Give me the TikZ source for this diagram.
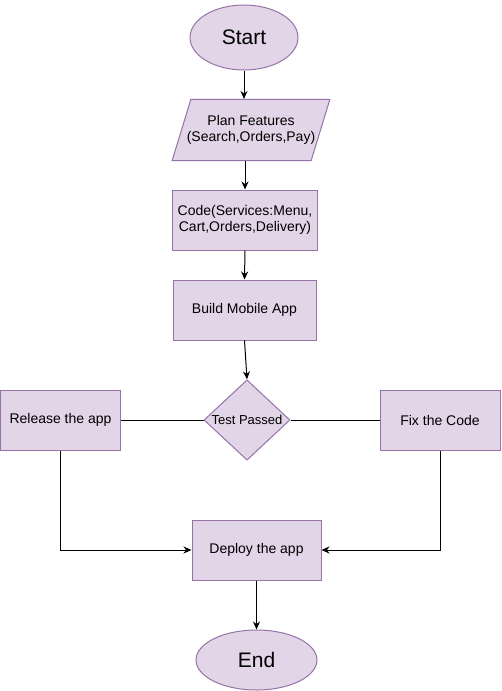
\documentclass[tikz,border=0pt]{standalone}
\usepackage{fontspec}
\setmainfont{Liberation Sans}
\usepackage{tikz}
\usetikzlibrary{arrows.meta,shapes.geometric}

\definecolor{boxfill}{HTML}{E1D5E7}
\definecolor{boxline}{HTML}{9673A6}

\begin{document}
\begin{tikzpicture}[>={Stealth[length=8pt,width=7pt]}, x=1pt, y=1pt,
	block/.style={draw=boxline, fill=boxfill, line width=1pt, inner sep=0pt, align=center, font=\fontsize{14}{16}\selectfont},
	terminal/.style={block, ellipse, font=\fontsize{21}{24}\selectfont},
	box/.style={block, rectangle, minimum height=60pt},
	io/.style={block, trapezium, trapezium left angle=73, trapezium right angle=107, inner ysep=16pt, inner xsep=-4pt, minimum width=149pt, minimum height=60pt, trapezium stretches body},
	decision/.style={block, diamond, minimum width=86pt, minimum height=80pt, font=\fontsize{13}{15}\selectfont},
	flow/.style={black, line width=1pt, ->}]
	\useasboundingbox (0, 0) rectangle (501, -691);

	\node[terminal, minimum width=108pt, minimum height=65pt] (start) at (244, -37.5) {Start};
	\node[io] (plan) at (251, -130) {Plan Features\\(Search,Orders,Pay)};
	\node[box, minimum width=145pt] (code) at (245, -220) {Code(Services:Menu,\\Cart,Orders,Delivery)};
	\node[box, minimum width=143pt] (build) at (244.5, -310) {Build Mobile App};
	\node[decision] (test) at (247, -420) {Test Passed};
	\node[box, minimum width=120pt] (release) at (60.5, -420) {Release the app};
	\node[box, minimum width=120pt] (fix) at (440, -420) {Fix the Code};
	\node[box, minimum width=129pt] (deploy) at (256.5, -550) {Deploy the app};
	\node[terminal, minimum width=121pt, minimum height=60pt] (end) at (256.5, -660) {End};

	\draw[flow] (start.south) -- (start.south |- plan.north);
	\draw[flow] (code.north |- plan.south) -- (code.north);
	\draw[flow] (code.south) -- (build.north);
	\draw[flow] (build.south) -- (test.north);

	\draw[line width=1pt] (test.west) -- (release.east);
	\draw[line width=1pt] (test.east) -- (fix.west);

	\draw[flow] (release.south) |- (deploy.west);
	\draw[flow] (fix.south) |- (deploy.east);
	\draw[flow] (deploy.south) -- (end.north);
\end{tikzpicture}
\end{document}
